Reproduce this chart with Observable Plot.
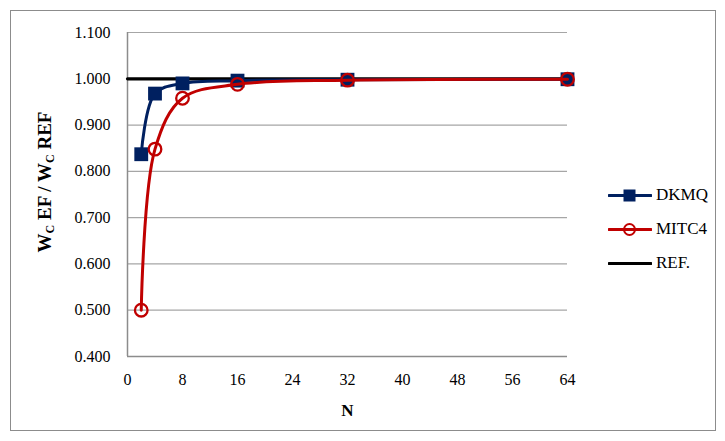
<!DOCTYPE html>
<html>
<head>
<meta charset="utf-8">
<script src="https://cdn.jsdelivr.net/npm/d3@7"></script>
<script src="https://cdn.jsdelivr.net/npm/@observablehq/plot@0.6"></script>
<style>
  html, body { margin: 0; padding: 0; background: #fff; }
  #wrap { position: relative; width: 725px; height: 441px; font-family: "Liberation Serif", "Times New Roman", Tinos, "DejaVu Serif", serif; }
  #frame { position: absolute; left: 10px; top: 10px; width: 706px; height: 421px; border: 1px solid #8c8c8c; box-sizing: border-box; }
  #chart { position: absolute; left: 0; top: 0; }
  #chart svg, #chart svg text { font-family: "Liberation Serif", "Times New Roman", Tinos, "DejaVu Serif", serif !important; }
  #ylab { position: absolute; left: 46px; top: 182px; transform: translate(-50%, -50%) rotate(-90deg); font-weight: bold; font-size: 19px; white-space: nowrap; color: #000; }
  #ylab sub { font-size: 12px; vertical-align: -3px; }
  #legend { position: absolute; left: 608px; top: 178px; font-size: 17px; color: #000; }
  .lg { display: flex; align-items: center; height: 34px; }
  .lg svg { margin-right: 4px; }
</style>
</head>
<body>
<div id="wrap">
  <div id="frame"></div>
  <div id="chart"></div>
  <div id="ylab">W<sub>C</sub> EF / W<sub>C</sub> REF</div>
  <div id="legend"></div>
</div>
<script>
const N = [2, 4, 8, 16, 32, 64];
const dkmq = [0.837, 0.968, 0.990, 0.996, 0.998, 0.999];
const mitc4 = [0.500, 0.848, 0.958, 0.988, 0.997, 0.999];
const refN = [0, 64];
const refV = [1.000, 1.000];
const xTicks = [0, 8, 16, 24, 32, 40, 48, 56, 64];
const yTicks = [0.4, 0.5, 0.6, 0.7, 0.8, 0.9, 1.0, 1.1];
const seriesNames = ["DKMQ", "MITC4", "REF."];
const colors = {DKMQ: "#002060", MITC4: "#c00000", "REF.": "#000000"};

const dk = N.map((n, i) => ({n, v: dkmq[i]}));
const mi = N.map((n, i) => ({n, v: mitc4[i]}));
const rf = refN.map((n, i) => ({n, v: refV[i]}));

const plot = Plot.plot({
  width: 725,
  height: 441,
  marginLeft: 127,
  marginRight: 158,
  marginTop: 32,
  marginBottom: 85,
  style: {fontSize: "16px", color: "#000", background: "transparent"},
  x: {domain: [0, 64], ticks: xTicks, tickSize: 0, tickPadding: 17, label: null},
  y: {domain: [0.4, 1.1], ticks: yTicks, tickSize: 0, tickPadding: 17, tickFormat: d3.format(".3f"), label: null},
  marks: [
    Plot.ruleY(yTicks, {stroke: "#a6a6a6", strokeWidth: 1.2}),
    Plot.ruleX([0], {stroke: "#8c8c8c", strokeWidth: 1.5}),
    Plot.ruleY([0.4], {stroke: "#8c8c8c", strokeWidth: 1.5}),
    Plot.line(rf, {x: "n", y: "v", stroke: colors["REF."], strokeWidth: 3.2}),
    Plot.line(dk, {x: "n", y: "v", stroke: colors.DKMQ, strokeWidth: 3, curve: "catmull-rom"}),
    Plot.dot(dk, {x: "n", y: "v", symbol: "square", r: 7.8, fill: colors.DKMQ, stroke: "none"}),
    Plot.line(mi, {x: "n", y: "v", stroke: colors.MITC4, strokeWidth: 3, curve: "catmull-rom"}),
    Plot.dot(mi, {x: "n", y: "v", symbol: "circle", r: 6.3, fill: "none", stroke: colors.MITC4, strokeWidth: 2.3}),
    Plot.text(["N"], {frameAnchor: "bottom", dy: 59, text: d => d, fontWeight: "bold", fontSize: 17})
  ]
});
document.getElementById("chart").appendChild(plot);

const legend = document.getElementById("legend");
seriesNames.forEach(name => {
  const row = document.createElement("div");
  row.className = "lg";
  const c = colors[name];
  let marker = "";
  if (name === "DKMQ") marker = `<rect x="15.5" y="4.5" width="12" height="12" fill="${c}"/>`;
  if (name === "MITC4") marker = `<circle cx="21.5" cy="10.5" r="5.5" fill="none" stroke="${c}" stroke-width="2"/>`;
  row.innerHTML = `<svg width="44" height="21"><line x1="1" y1="10.5" x2="43" y2="10.5" stroke="${c}" stroke-width="3" stroke-linecap="round"/>${marker}</svg><span>${name}</span>`;
  legend.appendChild(row);
});
</script>
</body>
</html>
